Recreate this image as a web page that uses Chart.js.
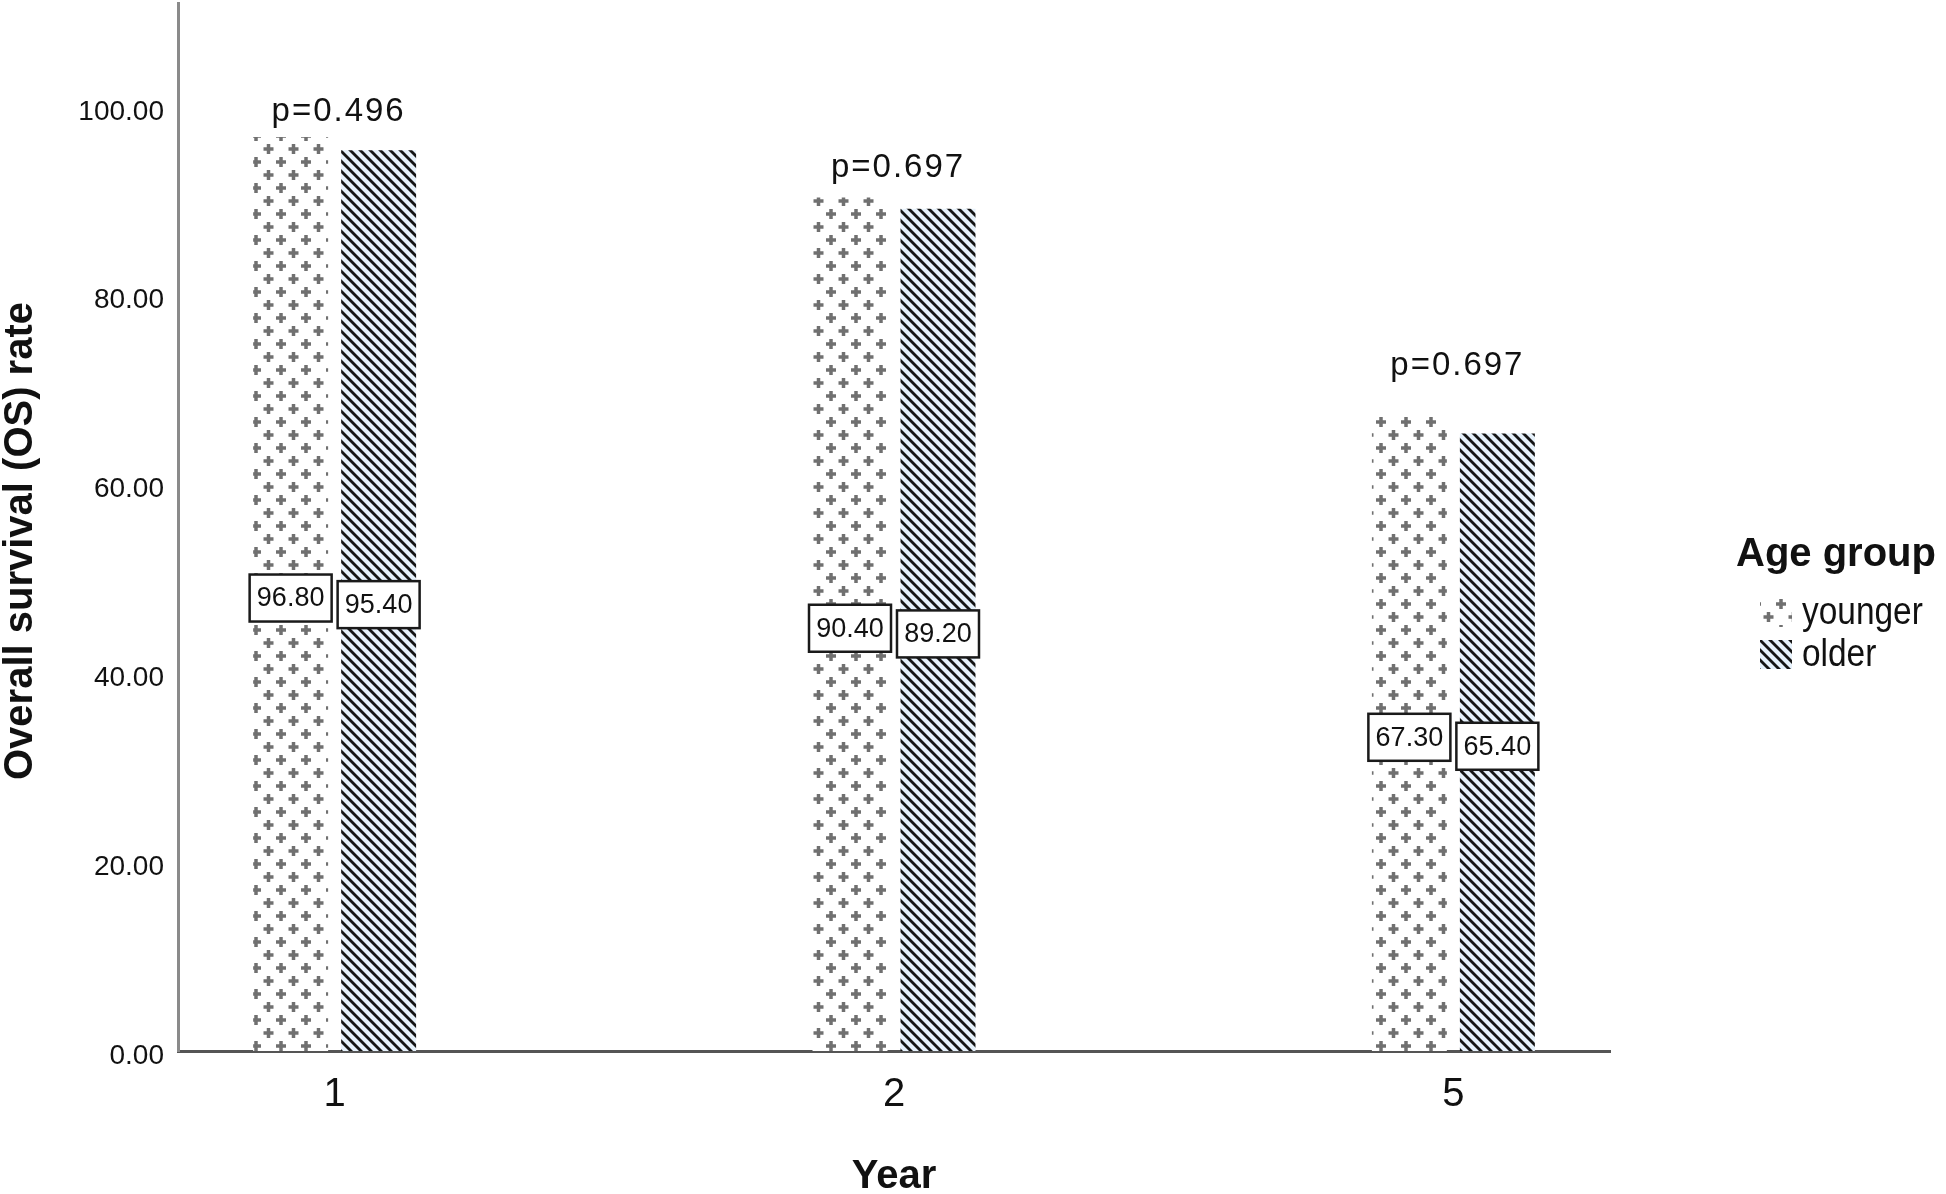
<!DOCTYPE html>
<html>
<head>
<meta charset="utf-8">
<title>Overall survival by age group</title>
<script src="https://cdn.jsdelivr.net/npm/chart.js@4.4.1/dist/chart.umd.min.js"></script>
<style>
  html, body { margin: 0; padding: 0; background: #fff; }
  #wrap { width: 1946px; height: 1194px; position: relative; }
</style>
</head>
<body>
<div id="wrap"><canvas id="osChart"></canvas></div>
<script>
// ---- data ----
const years = ["1", "2", "5"];
const younger = [96.8, 90.4, 67.3];
const older = [95.4, 89.2, 65.4];
const pTexts = ["p=0.496", "p=0.697", "p=0.697"];
const pLevels = [99.5, 93.5, 72.6]; // where the p labels sit, in axis units
const yTicks = [0, 20, 40, 60, 80, 100];
const groupNames = ["younger", "older"];

const FONT = "'Liberation Sans', Arial, sans-serif";

// hatch fills like the SPSS output
function crossPattern() {
  const c = document.createElement("canvas");
  c.width = 25; c.height = 26;
  const g = c.getContext("2d");
  g.fillStyle = "#fff";
  g.fillRect(0, 0, 25, 26);
  g.fillStyle = "#707070";
  const plus = (x, y) => {
    g.fillRect(x - 5, y - 1.75, 10, 3.5);
    g.fillRect(x - 1.75, y - 5, 3.5, 10);
  };
  plus(6, 6);
  plus(18.5, 19);
  plus(-6.5, 19);
  plus(31, 6);
  return g.createPattern(c, "repeat");
}

function diagPattern() {
  const c = document.createElement("canvas");
  c.width = 10; c.height = 10;
  const g = c.getContext("2d");
  g.fillStyle = "#e6f1fb";
  g.fillRect(0, 0, 10, 10);
  g.strokeStyle = "#151515";
  g.lineWidth = 2.8;
  for (let k = -1; k <= 1; k++) {
    g.beginPath();
    g.moveTo(k * 10 - 2, -2);
    g.lineTo(k * 10 + 12, 12);
    g.stroke();
  }
  return g.createPattern(c, "repeat");
}

const fills = [crossPattern(), diagPattern()];

const labelsPlugin = {
  id: "spssLabels",
  afterDatasetsDraw(chart) {
    const { ctx, scales } = chart;
    const x = scales.x, y = scales.y;

    // value boxes at half bar height
    ctx.save();
    ctx.font = `27px ${FONT}`;
    ctx.textAlign = "center";
    ctx.textBaseline = "middle";
    chart.data.datasets.forEach((ds, di) => {
      const meta = chart.getDatasetMeta(di);
      meta.data.forEach((bar, i) => {
        const v = ds.data[i].y;
        const cx = bar.x;
        const cy = y.getPixelForValue(v / 2) + 4;
        const w = 82, h = 47;
        ctx.fillStyle = "#fff";
        ctx.fillRect(cx - w / 2, cy - h / 2, w, h);
        ctx.lineWidth = 2.5;
        ctx.strokeStyle = "#1a1a1a";
        ctx.strokeRect(cx - w / 2, cy - h / 2, w, h);
        ctx.fillStyle = "#111";
        ctx.fillText(v.toFixed(2), cx, cy + 1);
      });
    });
    ctx.restore();

    // p-values above each pair
    ctx.save();
    ctx.font = `33px ${FONT}`;
    ctx.letterSpacing = "2px";
    ctx.textAlign = "center";
    ctx.textBaseline = "middle";
    ctx.fillStyle = "#111";
    pTexts.forEach((t, i) => {
      ctx.fillText(t, x.getPixelForValue(i) + 4, y.getPixelForValue(pLevels[i]));
    });
    ctx.restore();

    // y axis title
    ctx.save();
    ctx.font = `bold 40px ${FONT}`;
    ctx.fillStyle = "#111";
    ctx.textAlign = "center";
    ctx.textBaseline = "middle";
    ctx.translate(21, 541);
    ctx.rotate(-Math.PI / 2);
    ctx.fillText("Overall survival (OS) rate", 0, 0);
    ctx.restore();

    // legend
    ctx.save();
    ctx.fillStyle = "#111";
    ctx.textBaseline = "middle";
    ctx.textAlign = "left";
    ctx.font = `bold 40px ${FONT}`;
    ctx.fillText("Age group", 1736, 555);
    groupNames.forEach((name, i) => {
      const top = 598 + i * 42;
      ctx.fillStyle = fills[i];
      ctx.fillRect(1760, top, 32, 29);
      ctx.save();
      ctx.fillStyle = "#111";
      ctx.font = `38px ${FONT}`;
      ctx.translate(1802, top + 16);
      ctx.scale(0.88, 1);
      ctx.fillText(name, 0, 0);
      ctx.restore();
    });
    ctx.restore();
  }
};

new Chart(document.getElementById("osChart"), {
  type: "bar",
  data: {
    datasets: [
      {
        label: groupNames[0],
        data: younger.map((v, i) => ({ x: i, y: v })),
        backgroundColor: fills[0],
        borderWidth: 0,
      },
      {
        label: groupNames[1],
        data: older.map((v, i) => ({ x: i, y: v })),
        backgroundColor: fills[1],
        borderWidth: 0,
      }
    ]
  },
  options: {
    responsive: true,
    maintainAspectRatio: false,
    animation: false,
    layout: { padding: { top: 3, right: 336, left: 0, bottom: 0 } },
    categoryPercentage: 0.3146,
    barPercentage: 0.852,
    plugins: {
      legend: { display: false },
      tooltip: { enabled: false },
    },
    scales: {
      x: {
        type: "linear",
        offset: false,
        min: -0.28,
        max: 2.28,
        afterFit: (s) => { s.height = 143; s.paddingLeft = 0; s.paddingRight = 0; },
        grid: { display: false, offset: false },
        border: { display: true, color: "#555", width: 3 },
        ticks: {
          stepSize: 1,
          includeBounds: false,
          padding: 12,
          color: "#111",
          font: { family: FONT, size: 40 },
          callback: (v) => years[v] ?? "",
        },
        title: {
          display: true,
          text: "Year",
          color: "#111",
          font: { family: FONT, size: 40, weight: "bold", lineHeight: 1 },
          padding: { top: 0, bottom: -3 },
        },
      },
      y: {
        min: 0,
        max: 111,
        afterFit: (s) => { s.width = 178; s.paddingTop = 0; s.paddingBottom = 0; },
        afterBuildTicks: (s) => { s.ticks = yTicks.map(v => ({ value: v })); },
        grid: { display: false },
        border: { display: true, color: "#8a8a8a", width: 3 },
        ticks: {
          includeBounds: false,
          padding: 6,
          labelOffset: 5,
          color: "#111",
          font: { family: FONT, size: 28 },
          callback: (v) => Number(v).toFixed(2),
        },
      },
    },
  },
  plugins: [labelsPlugin],
});
</script>
</body>
</html>
